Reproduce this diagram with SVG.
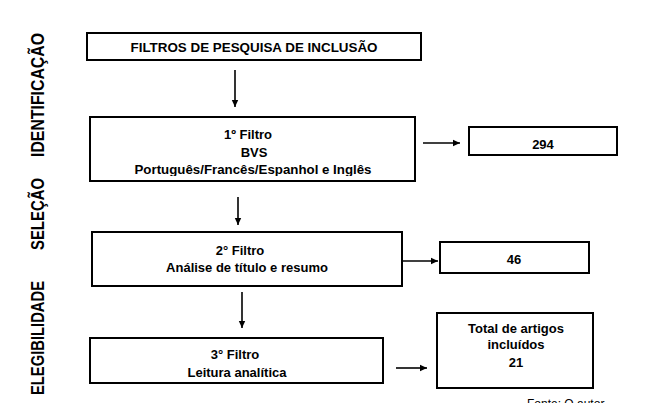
<svg xmlns="http://www.w3.org/2000/svg" width="651" height="403" viewBox="0 0 651 403">
<style>
.box{fill:#fff;stroke:#000;stroke-width:2}
.t{font-family:"Liberation Sans",Arial,sans-serif;font-size:13px;font-weight:bold;fill:#000;text-anchor:middle}
.lab{font-family:"Liberation Sans",Arial,sans-serif;font-size:18px;font-weight:bold;fill:#000}
.c{stroke:#000;stroke-width:1.6;fill:none;marker-end:url(#ah)}
.src{font-family:"Liberation Sans",Arial,sans-serif;font-size:12px;fill:#000}
</style>
<defs>
<marker id="ah" markerWidth="8" markerHeight="8" refX="7" refY="4" orient="auto" markerUnits="userSpaceOnUse">
<path d="M0,0.8 L7,4 L0,7.2 Z" fill="#000"/>
</marker>
<clipPath id="clip1"><rect x="90" y="117" width="325" height="59"/></clipPath>
</defs>
<rect width="651" height="403" fill="#fff"/>
<g id="labels">
<text class="lab" transform="translate(44,157) rotate(-90)" textLength="124" lengthAdjust="spacingAndGlyphs">IDENTIFICAÇÃO</text>
<text class="lab" transform="translate(44,250) rotate(-90)" textLength="72" lengthAdjust="spacingAndGlyphs">SELEÇÃO</text>
<text class="lab" transform="translate(44,395) rotate(-90)" textLength="114" lengthAdjust="spacingAndGlyphs">ELEGIBILIDADE</text>
</g>
<g id="connectors">
<line class="c" x1="235" y1="70" x2="235" y2="107"/>
<line class="c" x1="423" y1="143" x2="460" y2="143"/>
<line class="c" x1="238" y1="197" x2="238" y2="225"/>
<line class="c" x1="403" y1="261" x2="438" y2="261"/>
<line class="c" x1="242" y1="292" x2="242" y2="328"/>
<line class="c" x1="396" y1="368" x2="427" y2="368"/>
</g>
<g id="filtros">
<rect class="box" x="87" y="33" width="334" height="27"/>
<text class="t" x="254" y="52" textLength="247" lengthAdjust="spacingAndGlyphs">FILTROS DE PESQUISA DE INCLUSÃO</text>
</g>
<g id="filtro1">
<rect class="box" x="90" y="117" width="325" height="64"/>
<text class="t" x="248" y="139">1º Filtro</text>
<text class="t" x="254" y="157">BVS</text>
<text class="t" x="253" y="174" clip-path="url(#clip1)" textLength="237" lengthAdjust="spacingAndGlyphs">Português/Francês/Espanhol e Inglês</text>
</g>
<g id="n294">
<rect class="box" x="469" y="127" width="148" height="28"/>
<text class="t" x="543" y="149">294</text>
</g>
<g id="filtro2">
<rect class="box" x="92" y="232" width="310" height="54"/>
<text class="t" x="240" y="255">2° Filtro</text>
<text class="t" x="247" y="272">Análise de título e resumo</text>
</g>
<g id="n46">
<rect class="box" x="440" y="242" width="149" height="31"/>
<text class="t" x="514" y="264">46</text>
</g>
<g id="filtro3">
<rect class="box" x="90" y="338" width="293" height="45"/>
<text class="t" x="235" y="359">3° Filtro</text>
<text class="t" x="237" y="377">Leitura analítica</text>
</g>
<g id="total">
<rect class="box" x="437" y="313" width="156" height="75"/>
<text class="t" x="516" y="333">Total de artigos</text>
<text class="t" x="516" y="349">incluídos</text>
<text class="t" x="516" y="367">21</text>
</g>
<text class="src" x="527" y="408">Fonte: O autor</text>
</svg>
